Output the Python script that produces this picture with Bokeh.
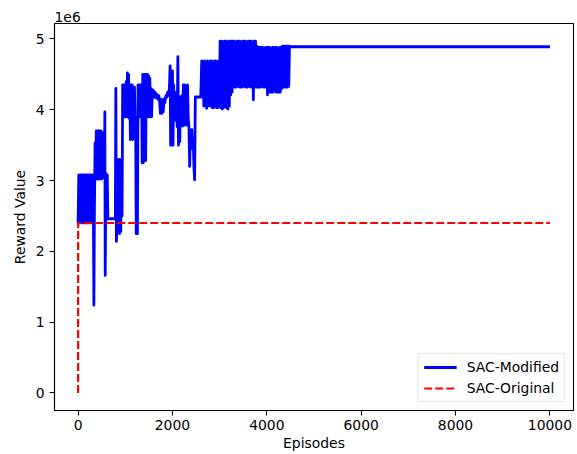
from bokeh.plotting import figure
from bokeh.models import Range1d, FixedTicker, Legend, LegendItem
from bokeh.embed import file_html
from bokeh.resources import INLINE

# SAC-Modified (reward in units of 1e6)
mod_episodes = [
    0, 15, 30, 45, 60, 75, 90, 105, 120, 135, 150, 165, 180, 195, 210, 225, 240, 255, 270, 285, 300, 315, 325,
    335, 345, 360, 372, 385, 398, 410, 422, 435, 448, 460, 472, 485, 498, 510, 522, 535, 548, 560, 567, 575,
    590, 605, 618, 630, 700, 790, 800, 812, 825, 840, 852, 865, 878, 890, 905, 918, 932, 945,
    958, 970, 982, 995, 1008, 1020, 1032, 1045, 1058, 1070, 1082, 1095, 1108, 1120, 1132, 1145, 1158, 1170,
    1182, 1195, 1208, 1220, 1232, 1245, 1258, 1270, 1282, 1295, 1308, 1320, 1332, 1345, 1358, 1370, 1382,
    1395, 1408, 1420, 1432, 1445, 1458, 1470, 1482, 1495, 1508, 1520, 1532, 1545, 1558,
    1570, 1590, 1610, 1630, 1650, 1670, 1690, 1710, 1730, 1745, 1760, 1775, 1790, 1805, 1820, 1840, 1860,
    1880, 1900, 1920, 1935, 1950, 1962, 1975, 1988, 2000, 2012, 2025, 2040, 2055, 2070, 2085, 2100, 2115,
    2128, 2140, 2155, 2170, 2185, 2200, 2215, 2230, 2245, 2260, 2275, 2290, 2305, 2320, 2335, 2350, 2365,
    2380, 2395, 2410, 2425, 2440, 2455, 2470, 2485, 2540, 2600,
    2620, 2635, 2650, 2665, 2680, 2695, 2710, 2725, 2740, 2755, 2770, 2785, 2800, 2815, 2830, 2845, 2860,
    2875, 2890, 2905, 2920, 2935, 2950, 2965, 2980, 2995, 3010, 3025, 3040, 3055, 3070, 3085, 3100, 3115,
    3130, 3145, 3160, 3175, 3190, 3205, 3220, 3235, 3250, 3265, 3280, 3295, 3310, 3325, 3340, 3355, 3370,
    3385, 3400, 3415, 3430, 3445, 3460, 3475, 3490, 3505, 3520, 3535, 3550, 3565, 3580, 3595, 3610, 3625,
    3640, 3655, 3670, 3685, 3700, 3715, 3730, 3745, 3760, 3775, 3790, 3805, 3820, 3835, 3850, 3865, 3880,
    3895, 3910, 3925, 3940, 3955, 3970, 3985, 4000, 4015, 4030, 4045, 4060, 4075, 4090, 4105, 4120, 4135,
    4150, 4165, 4180, 4195, 4210, 4225, 4240, 4255, 4270, 4285, 4300, 4315, 4330, 4345, 4360, 4375, 4390,
    4405, 4420, 4435, 4450, 4465, 4480, 4495, 10000,
]
mod_reward = [
    2.40, 3.08, 2.40, 3.08, 2.42, 3.08, 2.40, 3.08, 2.41, 3.08, 2.40, 3.08, 2.42, 3.08, 2.40, 3.08, 2.41, 3.08, 2.40, 3.08, 2.42, 3.08, 2.45,
    1.24, 2.50, 3.53, 3.02, 3.70, 3.02, 3.70, 3.03, 3.70, 3.02, 3.70, 3.05, 3.70, 3.02, 3.68, 3.04, 3.52, 3.10, 3.10, 3.97, 1.66,
    3.10, 2.45, 3.08, 2.46, 2.46, 2.46, 4.30, 2.14, 2.40, 3.28, 2.28, 3.30, 2.25, 3.25, 2.28, 3.30, 2.50, 4.35,
    3.90, 4.35, 3.90, 4.35, 3.90, 4.40, 3.90, 4.52, 3.90, 4.50, 3.88, 4.35, 3.58, 4.35, 3.90, 4.35, 3.58, 4.30,
    3.60, 4.32, 3.80, 3.85, 2.25, 3.90, 2.25, 4.35, 3.90, 4.35, 3.90, 4.35, 3.90, 4.35, 3.25, 4.50, 3.25,
    4.50, 3.30, 4.50, 3.28, 4.50, 3.90, 4.50, 3.90, 4.48, 3.90, 4.45, 3.90, 4.30, 3.90,
    4.20, 4.28, 4.18, 4.25, 4.17, 4.22, 4.15, 4.20, 4.10, 3.95, 4.15, 3.95, 4.12, 3.97, 4.15, 4.10, 4.20,
    4.18, 4.25, 4.20, 4.30, 4.62, 3.50, 4.30, 3.50, 4.55, 3.50, 4.35, 3.85, 4.25, 3.85, 4.20, 3.76, 4.75,
    3.50, 3.78, 3.55, 4.18, 3.78, 4.20, 3.77, 4.35, 3.78, 4.35, 3.80, 4.30, 3.78, 4.35, 3.87, 3.75, 3.20,
    3.70, 3.55, 3.72, 3.45, 3.60, 3.20, 3.01, 4.18, 4.18, 4.18,
    4.69, 4.18, 4.60, 4.05, 4.69, 4.18, 4.65, 4.02, 4.69, 4.18, 4.55, 4.05, 4.69, 4.18, 4.69, 4.03, 4.65,
    4.03, 4.69, 4.10, 4.69, 4.03, 4.62, 4.03, 4.69, 4.10, 4.97, 4.03, 4.97, 4.01, 4.90, 4.03, 4.97, 4.10,
    4.97, 4.03, 4.85, 4.01, 4.97, 4.05, 4.97, 4.21, 4.97, 4.25, 4.97, 4.32, 4.97, 4.32, 4.92, 4.32, 4.97,
    4.35, 4.97, 4.32, 4.97, 4.32, 4.92, 4.32, 4.97, 4.35, 4.97, 4.32, 4.97, 4.32, 4.92, 4.32, 4.97, 4.35,
    4.97, 4.32, 4.97, 4.32, 4.92, 4.14, 4.97, 4.32, 4.97, 4.32, 4.90, 4.32, 4.88, 4.32, 4.88, 4.32, 4.88,
    4.35, 4.88, 4.32, 4.85, 4.32, 4.88, 4.32, 4.88, 4.21, 4.88, 4.25, 4.88, 4.25, 4.85, 4.25, 4.88, 4.25,
    4.88, 4.28, 4.88, 4.25, 4.88, 4.25, 4.85, 4.25, 4.88, 4.25, 4.88, 4.30, 4.90, 4.32, 4.90, 4.32, 4.90,
    4.32, 4.90, 4.32, 4.90, 4.33, 4.90, 4.89, 4.89,
]

# SAC-Original
orig_episodes = [0, 1, 10000]
orig_reward = [0.0, 2.40, 2.40]

x_ticks = [0, 2000, 4000, 6000, 8000, 10000]
y_ticks = [0, 1, 2, 3, 4, 5]

FONT = "DejaVu Sans"
FS = "13.9px"

all_x = mod_episodes + orig_episodes
all_y = mod_reward + orig_reward
xpad = 0.05 * (max(all_x) - min(all_x))
ypad = 0.05 * (max(all_y) - min(all_y))

p = figure(
    width=577, height=454, output_backend="svg", toolbar_location=None,
    x_range=Range1d(min(all_x) - xpad, max(all_x) + xpad),
    y_range=Range1d(min(all_y) - ypad, max(all_y) + ypad),
    min_border_left=54, min_border_right=4, min_border_top=23, min_border_bottom=44,
    background_fill_color="white", border_fill_color="white",
)
p.grid.visible = False
p.outline_line_color = "black"
p.outline_line_width = 1.1
p.outline_line_alpha = 1.0

p.title.text = "1e6"
p.title.align = "left"
p.title.text_font = FONT
p.title.text_font_size = FS
p.title.text_font_style = "normal"
p.title.text_color = "black"
p.title.standoff = 3
p.title.offset = 0

for ax in (p.xaxis[0], p.yaxis[0]):
    ax.major_tick_out = 5
    ax.major_tick_in = 0
    ax.minor_tick_out = 0
    ax.minor_tick_in = 0
    ax.major_tick_line_color = "black"
    ax.major_tick_line_width = 1.1
    ax.axis_line_color = "black"
    ax.axis_line_width = 1.1
    ax.major_label_text_font = FONT
    ax.major_label_text_font_size = FS
    ax.major_label_text_color = "black"
    ax.axis_label_text_font = FONT
    ax.axis_label_text_font_size = FS
    ax.axis_label_text_font_style = "normal"
    ax.axis_label_text_color = "black"

p.xaxis.ticker = FixedTicker(ticks=x_ticks)
p.yaxis.ticker = FixedTicker(ticks=y_ticks)
p.xaxis.axis_label = "Episodes"
p.yaxis.axis_label = "Reward Value"
p.xaxis.major_label_standoff = 4
p.xaxis.axis_label_standoff = 2
p.yaxis.major_label_standoff = 5
p.yaxis.axis_label_standoff = 5

r_mod = p.line(mod_episodes, mod_reward, line_color="#0000ff", line_width=2.8, line_join="round")
r_orig = p.line(orig_episodes, orig_reward, line_color="#ff0000", line_width=2.2, line_dash="8 3")

legend = Legend(items=[
    LegendItem(label="SAC-Modified", renderers=[r_mod]),
    LegendItem(label="SAC-Original", renderers=[r_orig]),
])
legend.location = "bottom_right"
legend.margin = 8
legend.padding = 5
legend.spacing = 5
legend.label_standoff = 10
legend.glyph_width = 33
legend.glyph_height = 16
legend.label_text_font = FONT
legend.label_text_font_size = FS
legend.label_text_color = "black"
legend.border_line_color = "#cccccc"
legend.border_line_width = 1
legend.background_fill_color = "white"
legend.background_fill_alpha = 0.8
p.add_layout(legend)

open("out.html", "w").write(file_html(p, INLINE))
